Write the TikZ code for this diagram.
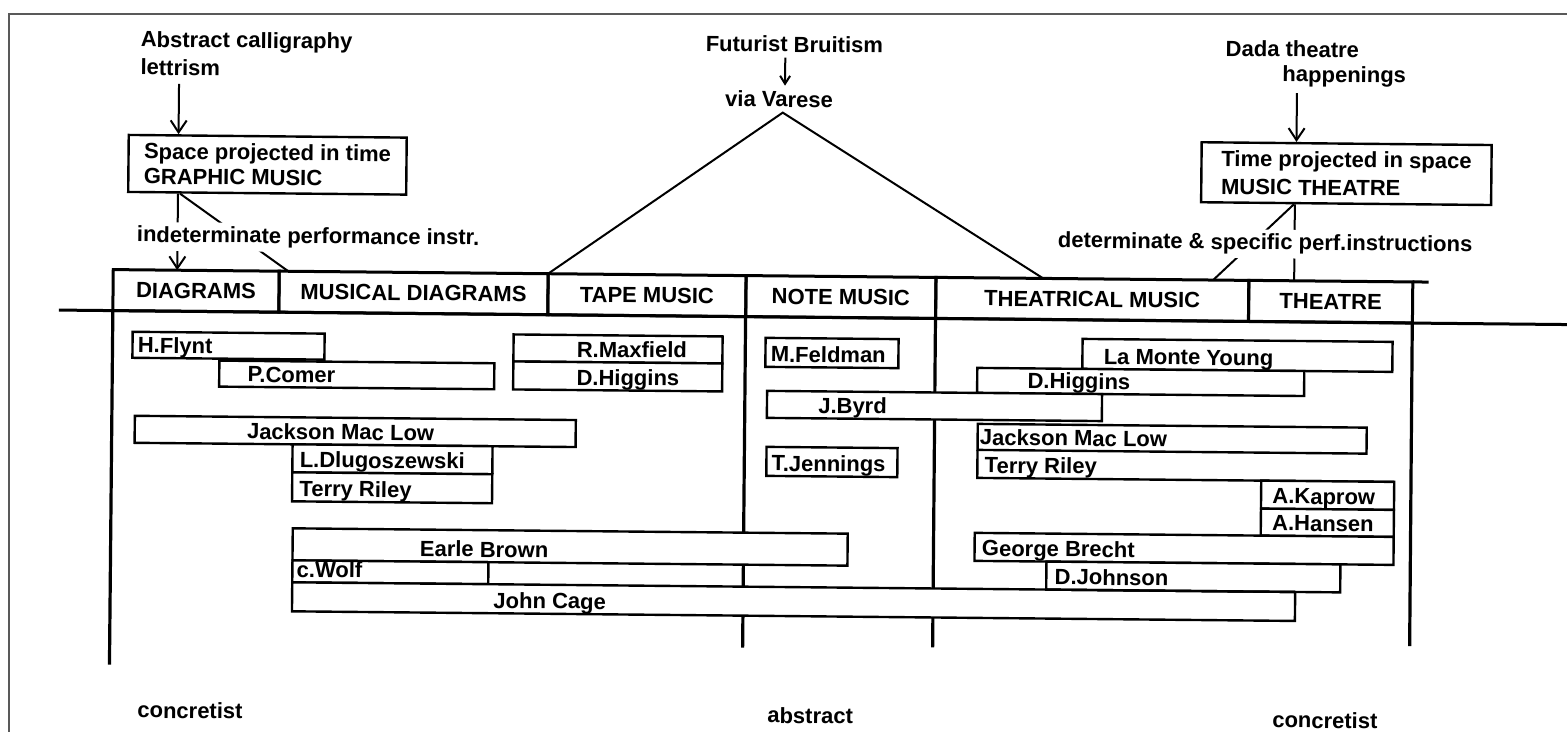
\documentclass[tikz,border=0pt]{standalone}
\usepackage{fontspec}
\setmainfont{Liberation Sans}
\usetikzlibrary{positioning,arrows.meta}

\tikzset{
  lbl/.style={font=\fontsize{11}{13}\selectfont\bfseries, inner sep=0pt},
  cover/.style={lbl, fill=white, inner sep=2pt},
  bigbox/.style={draw, line width=1.2pt, anchor=north west, align=left, inner sep=0pt},
  headcell/.style={draw, line width=1.5pt, minimum height=20.5pt, inner sep=0pt, outer sep=0pt,
    font=\fontsize{11}{13}\selectfont\bfseries},
  barline/.style={draw, line width=1.2pt, fill=white},
  colline/.style={line width=1.6pt},
  conn/.style={line width=1pt},
  arr/.style={conn, -{Straight Barb[length=6pt,width=8pt]}},
}

% name, x1, x2, top, bottom, text x, text
\newcommand{\namebar}[7]{%
  \path[barline] (#2,#4) rectangle (#3,#5);
  \node[lbl, anchor=base west] (#1) at (#6,{#5-5}) {#7};
}

\begin{document}
\begin{tikzpicture}[x=0.5pt, y=-0.5pt]
            \useasboundingbox (0,0) rectangle (1567,732);
            % frame:
            \draw[line width=1pt, black!65] (9,732) -- (9,14) -- (1567,14);

            \begin{scope}[rotate around={-0.55:(780,400)}, transform shape]
            % column heads:
            \node[headcell, minimum width=83pt, anchor=north west] (diagrams) at (112,276) {DIAGRAMS};
            \node[headcell, minimum width=134.5pt, right=0pt of diagrams] (musical) {MUSICAL DIAGRAMS};
            \node[headcell, minimum width=99pt, right=0pt of musical] (tape) {TAPE MUSIC};
            \node[headcell, minimum width=95pt, right=0pt of tape] (note) {NOTE MUSIC};
            \node[headcell, minimum width=156.5pt, right=0pt of note] (theatrical) {THEATRICAL MUSIC};
            \node[headcell, minimum width=82pt, right=0pt of theatrical] (theatre) {THEATRE};
            \draw[line width=1.5pt] (theatre.north east) -- ++(16,0);
            \draw[line width=1.5pt] (58,317) -- (1600,317);

            % column lines:
            \draw[colline] (diagrams.south west) -- (112,671);
            \draw[colline] (note.south west) -- (745,648);
            \draw[colline] (theatrical.south west) -- (935,646);
            \draw[colline] (theatre.south east) -- (1412,640);

            % graphic music:
            \node[lbl, anchor=base west] (abstract) at (137,53) {Abstract calligraphy};
            \node[lbl, anchor=base west] (lettrism) at (137,81) {lettrism};
            \node[bigbox, minimum width=139pt, minimum height=28.5pt,
                font=\fontsize{11}{12.5}\selectfont\bfseries] (graphic) at (125,140)
                {Space projected in time\\GRAPHIC MUSIC};
            \draw[arr, shorten <=4pt] (176,0 |- lettrism.south) -- (176,0 |- graphic.north);
            \draw[arr] (176,0 |- graphic.south) -- (176,0 |- diagrams.north);
            \draw[conn] (178,0 |- graphic.south) -- (287,0 |- musical.north);
            \node[cover, anchor=base west] (indet) at (131,248) {indeterminate performance instr.};

            % futurism:
            \node[lbl, anchor=base west] (futurist) at (702,52) {Futurist Bruitism};
            \node[lbl, anchor=base west, inner sep=2.5pt] (varese) at (717,107) {via Varese};
            \draw[conn, shorten <=2.5pt, -{Straight Barb[length=4pt,width=5pt]}]
                (782,0 |- futurist.south) -- (782,0 |- varese.north);
            \draw[conn] (tape.north west) -- (780,0 |- varese.south) -- (1042,0 |- theatrical.north);

            % music theatre:
            \node[lbl, anchor=base west] (dada) at (1222,52) {Dada theatre};
            \node[lbl, anchor=base west] (happen) at (1279,77) {happenings};
            \node[bigbox, minimum width=145pt, minimum height=30pt,
                font=\fontsize{11}{14}\selectfont\bfseries] (mtheatre) at (1198,137)
                {Time projected in space\\MUSIC THEATRE};
            \draw[arr, shorten <=3pt] (1294,0 |- happen.south) -- (1294,0 |- mtheatre.north);
            \draw[conn] (1293,0 |- mtheatre.south) -- (1293,0 |- theatre.north);
            \draw[conn] (1292,0 |- mtheatre.south) -- (1212,0 |- theatrical.north);
            \node[cover, anchor=base west] (determ) at (1052,245) {determinate \& specific perf.instructions};

            % composers, left:
            \namebar{flynt}{132}{324}{338}{364}{137}{H.Flynt}
            \namebar{comer}{219}{494}{366}{392}{247}{P.Comer}
            \namebar{maxfield}{513}{722}{337}{364}{576}{R.Maxfield}
            \namebar{higginsA}{513}{722}{364}{392}{576}{D.Higgins}
            \namebar{maclowA}{135}{576}{422}{449}{247}{Jackson Mac Low}
            \namebar{dlugo}{293}{493}{449}{477}{300}{L.Dlugoszewski}
            \namebar{rileyA}{293}{493}{477}{506}{300}{Terry Riley}
            \namebar{brown}{294}{849}{533}{565}{421}{Earle Brown}
            \namebar{wolf}{294}{490}{565}{587}{298}{c.Wolf}
            \namebar{cage}{294}{1297}{587}{616}{495}{John Cage}

            % composers, middle:
            \namebar{feldman}{765}{898}{338}{367}{770}{M.Feldman}
            \namebar{jennings}{767}{898}{447}{476}{772}{T.Jennings}

            % composers, right:
            \namebar{young}{1082}{1392}{336}{366}{1103}{La Monte Young}
            \namebar{higginsB}{977}{1304}{366}{391}{1027}{D.Higgins}
            \namebar{byrd}{767}{1102}{391}{418}{818}{J.Byrd}
            \namebar{maclowB}{978}{1367}{422}{448}{980}{Jackson Mac Low}
            \draw[line width=1.2pt] (978,448) -- (978,476) -- (1395,476);
            \node[lbl, anchor=base west] (rileyB) at (985,471) {Terry Riley};
            \namebar{kaprow}{1262}{1395}{476}{504}{1273}{A.Kaprow}
            \namebar{hansen}{1262}{1395}{504}{531}{1273}{A.Hansen}
            \namebar{brecht}{976}{1395}{531}{559}{983}{George Brecht}
            \namebar{johnson}{1048}{1342}{559}{587}{1056}{D.Johnson}
            \draw[line width=1.2pt] (1048,587) -- (1297,587);

            % bottom:
            \node[lbl, anchor=base west] (concrA) at (140,724) {concretist};
            \node[lbl, anchor=base west] (abstr) at (770,723) {abstract};
            \node[lbl, anchor=base west] (concrB) at (1275,723) {concretist};
            \end{scope}
\end{tikzpicture}
\end{document}
